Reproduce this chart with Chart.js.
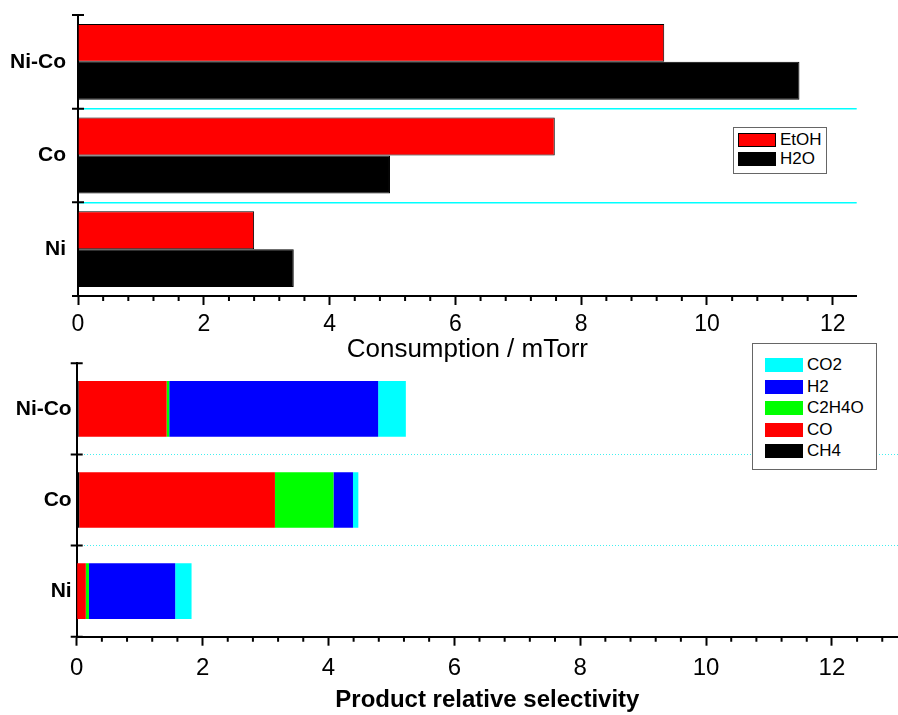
<!DOCTYPE html>
<html>
<head>
<meta charset="utf-8">
<script src="https://cdn.jsdelivr.net/npm/chart.js@4/dist/chart.umd.min.js"></script>
<style>
  body { margin: 0; background: #fff; }
  #wrap { position: relative; width: 898px; height: 715px; font-family: "Liberation Sans", Arial, sans-serif; }
  #wrap canvas { position: absolute; left: 0; top: 0; }
  .legend { position: absolute; box-sizing: border-box; border: 1.5px solid #666; background: #fff; }
  .legend .row { position: absolute; height: 14px; white-space: nowrap; }
  .legend .sw { position: absolute; left: 0; top: 0; width: 38px; height: 14px; box-sizing: border-box; }
  .legend .tx { position: absolute; top: 0; line-height: 14px; font-size: 17px; color: #000; }
</style>
</head>
<body>
<div id="wrap">
  <canvas id="bottomChart" width="898" height="715"></canvas>
  <canvas id="topChart" width="898" height="715"></canvas>
  <div id="legend-top" class="legend" style="left:733px;top:127px;width:94px;height:47px"></div>
  <div id="legend-bottom" class="legend" style="left:752px;top:343px;width:125px;height:127px"></div>
</div>
<script>
const catalysts = ['Ni-Co', 'Co', 'Ni'];

// top panel: consumption (mTorr)
const etohConsumption = [9.32, 7.58, 2.80];
const h2oConsumption = [11.47, 4.96, 3.43];

// bottom panel: product relative selectivity, stacked from the axis outward
const products = ['CH4', 'CO', 'C2H4O', 'H2', 'CO2'];
const ch4Sel = [0.03, 0.04, 0.005];
const coSel = [1.40, 3.11, 0.14];
const c2h4oSel = [0.04, 0.93, 0.05];
const h2Sel = [3.32, 0.31, 1.37];
const co2Sel = [0.44, 0.085, 0.26];
const productColors = ['#000000', '#ff0000', '#00ff00', '#0000ff', '#00ffff'];

const MINOR_STEP = 0.4;
const FONT = '"Liberation Sans", Arial, sans-serif';

Chart.defaults.font.family = FONT;
Chart.defaults.color = '#000';

// minor ticks on the value axis + category ticks crossing the y axis line
const tickMarks = {
  id: 'tickMarks',
  afterDraw(chart) {
    const { ctx, scales } = chart;
    const x = scales.x, y = scales.y;
    ctx.save();
    ctx.strokeStyle = '#000';
    ctx.lineWidth = 2;
    ctx.beginPath();
    for (let k = 1; k * MINOR_STEP < x.max; k++) {
      if (k % 5 === 0) continue;
      const px = x.getPixelForValue(k * MINOR_STEP);
      ctx.moveTo(px, x.top);
      ctx.lineTo(px, x.top + 5);
    }
    for (let i = 0; i <= y.ticks.length; i++) {
      const py = y.getPixelForValue(i - 0.5);
      ctx.moveTo(y.right - 6, py);
      ctx.lineTo(y.right + 6, py);
    }
    ctx.stroke();
    ctx.restore();
  }
};

function innerOnly(color) {
  return c => (c.index > 0 && c.index < catalysts.length) ? color : 'rgba(0,0,0,0)';
}

// fixed axis width; drop the label overhang padding so the plot top stays put
function fixY(width) {
  return s => { s.width = width; s.paddingTop = 0; s.paddingBottom = 0; };
}

new Chart(document.getElementById('topChart'), {
  type: 'bar',
  data: {
    labels: catalysts,
    datasets: [
      { label: 'EtOH', data: etohConsumption, backgroundColor: '#ff0000', borderColor: '#000', borderWidth: 1 },
      { label: 'H2O', data: h2oConsumption, backgroundColor: '#000000', borderColor: '#000', borderWidth: 1 }
    ]
  },
  options: {
    indexAxis: 'y',
    responsive: false,
    animation: false,
    layout: { padding: { top: 15, left: 0, right: 41.3, bottom: 715 - 296 - 69.4 } },
    datasets: { bar: { categoryPercentage: 0.81, barPercentage: 1 } },
    plugins: { legend: { display: false }, tooltip: { enabled: false } },
    scales: {
      x: {
        min: 0, max: 12.38,
        afterFit: s => { s.height = 69.4; },
        ticks: { stepSize: 2, includeBounds: false, padding: 6, font: { size: 23 } },
        grid: { drawOnChartArea: false, drawTicks: true, tickLength: 9, tickWidth: 2, tickColor: '#000' },
        border: { display: true, color: '#000', width: 2 },
        title: { display: true, text: 'Consumption / mTorr', font: { size: 26 }, padding: 0 }
      },
      y: {
        afterFit: fixY(78),
        ticks: { padding: 12, font: { size: 21, weight: 'bold' } },
        grid: { drawTicks: false, lineWidth: 1.5, color: innerOnly('#00ffff') },
        border: { display: true, color: '#000', width: 2 }
      }
    }
  },
  plugins: [tickMarks]
});

const selSeries = [ch4Sel, coSel, c2h4oSel, h2Sel, co2Sel];

new Chart(document.getElementById('bottomChart'), {
  type: 'bar',
  data: {
    labels: catalysts,
    datasets: products.map((p, i) => ({
      label: p, data: selSeries[i], backgroundColor: productColors[i], borderWidth: 0
    }))
  },
  options: {
    indexAxis: 'y',
    responsive: false,
    animation: false,
    layout: { padding: { top: 363.3, left: 0, right: 0, bottom: 0 } },
    datasets: { bar: { categoryPercentage: 0.61, barPercentage: 1 } },
    plugins: { legend: { display: false }, tooltip: { enabled: false } },
    scales: {
      x: {
        stacked: true,
        min: 0, max: 13.05,
        afterFit: s => { s.height = 78.3; },
        ticks: { stepSize: 2, includeBounds: false, padding: 8, font: { size: 24 } },
        grid: { drawOnChartArea: false, drawTicks: true, tickLength: 9, tickWidth: 2, tickColor: '#000' },
        border: { display: true, color: '#000', width: 2 },
        title: { display: true, text: 'Product relative selectivity', font: { size: 24, weight: 'bold' }, padding: 0 }
      },
      y: {
        stacked: true,
        afterFit: fixY(76.7),
        ticks: { padding: 5, font: { size: 21, weight: 'bold' } },
        grid: { drawTicks: false, lineWidth: 1, color: innerOnly('#40f0f0') },
        border: { display: true, color: '#000', width: 2, dash: [1, 2] }
      }
    }
  },
  plugins: [tickMarks]
});

function buildLegend(id, items, opts) {
  const box = document.getElementById(id);
  items.forEach((it, i) => {
    const row = document.createElement('div');
    row.className = 'row';
    row.style.left = opts.left + 'px';
    row.style.top = (opts.top + i * opts.pitch) + 'px';
    const sw = document.createElement('div');
    sw.className = 'sw';
    sw.style.background = it.color;
    if (opts.swBorder) sw.style.border = '1.5px solid #000';
    const tx = document.createElement('div');
    tx.className = 'tx';
    tx.style.left = '42px';
    tx.textContent = it.label;
    row.appendChild(sw);
    row.appendChild(tx);
    box.appendChild(row);
  });
}

buildLegend('legend-top', [
  { label: 'EtOH', color: '#ff0000' },
  { label: 'H2O', color: '#000000' }
], { left: 4, top: 5, pitch: 18.5, swBorder: true });

buildLegend('legend-bottom',
  products.map((p, i) => ({ label: p, color: productColors[i] })).reverse(),
  { left: 12, top: 14, pitch: 21.5, swBorder: false });
</script>
</body>
</html>
